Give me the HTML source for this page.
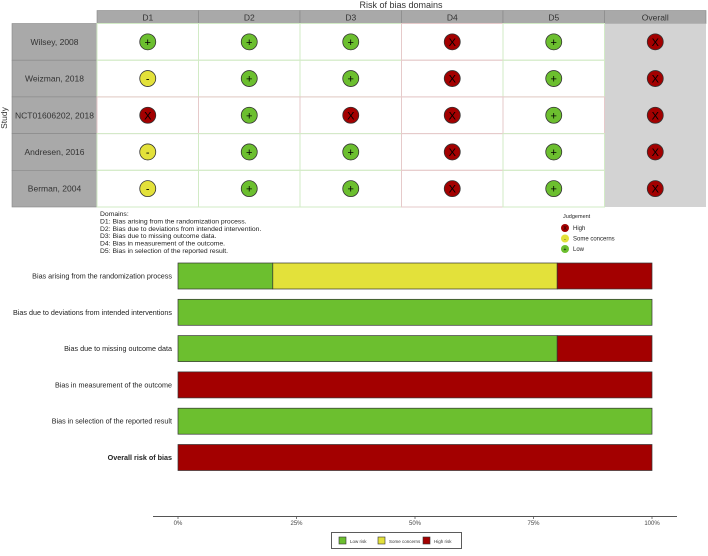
<!DOCTYPE html>
<html><head><meta charset="utf-8"><style>
body{margin:0;background:#fff;font-family:"Liberation Sans",sans-serif;}
svg text{font-family:"Liberation Sans",sans-serif;}
</style></head><body>
<svg id="chart" width="708" height="551" xmlns="http://www.w3.org/2000/svg"></svg>
<script>
const studies=["Wilsey, 2008","Weizman, 2018","NCT01606202, 2018","Andresen, 2016","Berman, 2004"];
const domains=["D1","D2","D3","D4","D5","Overall"];
const judgements=[
 ["L","L","L","H","L","H"],
 ["S","L","L","H","L","H"],
 ["H","L","H","H","L","H"],
 ["S","L","L","H","L","H"],
 ["S","L","L","H","L","H"]];
const barCategories=["Bias arising from the randomization process","Bias due to deviations from intended interventions","Bias due to missing outcome data","Bias in measurement of the outcome","Bias in selection of the reported result","Overall risk of bias"];
const lowRisk=[20,100,80,0,100,0];
const someConcerns=[60,0,0,0,0,0];
const highRisk=[20,0,20,100,0,100];
const xTicks=[0,25,50,75,100];

const NS="http://www.w3.org/2000/svg";
const svg=document.getElementById('chart');
function el(t,a,txt){const e=document.createElementNS(NS,t);for(const k in a)e.setAttribute(k,a[k]);if(txt!=null)e.textContent=txt;svg.appendChild(e);return e;}
const COL={L:"#6cbf2f",S:"#e3e13a",H:"#a30000"};
const SYM={L:"+",S:"-",H:"X"};

const tx0=97,colW=101.5,ty0=23.5,rowH=36.7;
let t=el('text',{x:401,y:8,'font-size':9,'text-anchor':'middle',fill:'#333'},"Risk of bias domains");

domains.forEach((d,i)=>{
 const r=el('rect',{x:tx0+i*colW,y:10.5,width:colW,height:13,fill:'#a9a9a9',stroke:'#888','stroke-width':0.6});
 
 el('text',{x:tx0+i*colW+colW/2,y:20.5,'font-size':8.5,'text-anchor':'middle',fill:'#333'},d);
});
{const bg=el('rect',{x:tx0+5*colW,y:ty0,width:colW,height:rowH*5,fill:'#d3d3d3'});}
studies.forEach((s,r)=>{
 const y=ty0+r*rowH;
 const lr=el('rect',{x:12,y:y,width:85,height:rowH,fill:'#a9a9a9',stroke:'#888','stroke-width':0.6});
 
 el('text',{x:54.5,y:y+rowH/2+3,'font-size':8.5,'text-anchor':'middle',fill:'#333'},s);
 judgements[r].forEach((j,c)=>{
  const cx=tx0+c*colW+colW/2,cy=y+rowH/2;
  if(c<5){const g=el('rect',{x:tx0+c*colW,y:y,width:colW,height:rowH,fill:'none',stroke:j==='H'||(r===2)?'#e6caca':'#d2ebc6','stroke-width':1});}
  const ci=el('circle',{cx:cx,cy:cy,r:8,fill:COL[j],stroke:'#333','stroke-width':0.8});
  
  el('text',{x:cx,y:cy+4,'font-size':11,'text-anchor':'middle',fill:'#000'},SYM[j]);
 });
});
t=el('text',{x:7,y:118,'font-size':8.5,'text-anchor':'middle',fill:'#333',transform:'rotate(-90 7 118)'},"Study");

const notes=["Domains:","D1: Bias arising from the randomization process.","D2: Bias due to deviations from intended intervention.","D3: Bias due to missing outcome data.","D4: Bias in measurement of the outcome.","D5: Bias in selection of the reported result."];
notes.forEach((n,i)=>el('text',{x:100,y:216+i*7.4,'font-size':6.8,fill:'#222'},n));
el('text',{x:563,y:218,'font-size':5.5,fill:'#222'},"Judgement");
[["H","High"],["S","Some concerns"],["L","Low"]].forEach((p,i)=>{
 const c=el('circle',{cx:565,cy:228+i*10.5,r:4,fill:COL[p[0]]});
 el('text',{x:565,y:230+i*10.5,'font-size':5,'text-anchor':'middle'},SYM[p[0]]);
 el('text',{x:573,y:230+i*10.5,'font-size':6,fill:'#222'},p[1]);
});
const bx0=178,bx1=652;
const xs=v=>bx0+(bx1-bx0)*v/100;
const yc=i=>276+i*36.3;
const bh=26;
barCategories.forEach((c,i)=>{
 const lt=el('text',{x:172,y:yc(i)+2.5,'font-size':7.2,'text-anchor':'end',fill:'#222','font-weight':i===5?'bold':'normal'},c);
 
 let acc=0;
 [[lowRisk,COL.L,'low'],[someConcerns,COL.S,'some'],[highRisk,COL.H,'high']].forEach(([arr,col,nm])=>{
  const v=arr[i];if(v<=0)return;
  const r=el('rect',{x:xs(acc),y:yc(i)-bh/2,width:xs(acc+v)-xs(acc),height:bh,fill:col,stroke:'#333','stroke-width':0.7});
  
  acc+=v;
 });
});
const ax=el('line',{x1:153,y1:516.5,x2:677,y2:516.5,stroke:'#555','stroke-width':1});

xTicks.forEach(v=>{
 el('line',{x1:xs(v),y1:516.5,x2:xs(v),y2:519,stroke:'#555','stroke-width':0.8});
 const tt=el('text',{x:xs(v),y:525,'font-size':6,'text-anchor':'middle',fill:'#444'},v+"%");
 
});
const lg=el('rect',{x:331.5,y:532.5,width:130,height:16,fill:'#fff',stroke:'#333','stroke-width':0.8});

[[COL.L,"Low risk",339],[COL.S,"Some concerns",378],[COL.H,"High risk",423]].forEach(p=>{
 const r=el('rect',{x:p[2],y:537,width:7,height:7,fill:p[0],stroke:'#333','stroke-width':0.6});
 
 el('text',{x:p[2]+11,y:543,'font-size':4.5,fill:'#333'},p[1]);
});
</script>
</body></html>
